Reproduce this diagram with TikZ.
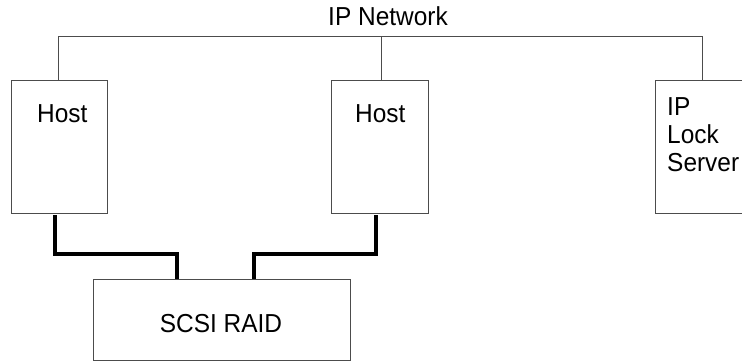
\documentclass[tikz,border=0pt]{standalone}
\usepackage{fontspec}
\setmainfont{Liberation Sans}
\newcommand{\nt}[1]{\scalebox{0.94}[1]{#1}}
\begin{document}
\begin{tikzpicture}[x=1pt,y=-1pt,
  box/.style={draw=black!70,line width=1pt,rectangle,inner sep=0pt,anchor=north west},
  lbl/.style={inner sep=0pt,anchor=base west,font=\fontsize{26}{28}\selectfont},
  thin/.style={draw=black!70,line width=1pt},
  bus/.style={draw=black,line width=4pt}]
\useasboundingbox (0,0) rectangle (742,362);
\clip (0,0) rectangle (742,362);
% boxes
\node[box,minimum width=96pt,minimum height=133pt] (h1) at (11,80) {};
\node[box,minimum width=97pt,minimum height=133pt] (h2) at (331,80) {};
\node[box,minimum width=110pt,minimum height=133pt] (ls) at (655,80) {};
\node[box,minimum width=257pt,minimum height=81pt] (raid) at (93,279) {};
% labels
\node[lbl] (t1) at (37,122) {\nt{Host}};
\node[lbl] (t2) at (355,122) {\nt{Host}};
\node[lbl] (t3) at (667,115) {\nt{IP}};
\node[lbl] (t4) at (667,143) {\nt{Lock}};
\node[lbl] (t5) at (667,171) {\nt{Server}};
\node[lbl,anchor=base] (net) at (388,25) {\nt{IP Network}};
\node[lbl,anchor=base] (rt) at (221,332) {\nt{SCSI RAID}};
% network
\coordinate (nl) at (58,36);
\coordinate (nr) at (703,36);
\draw[thin] (nl) -- (nr);
\draw[thin] (nl) -- (nl |- h1.north);
\draw[thin] (381,36) -- (381,80);
\draw[thin] (702,36) -- (702,80);
% SCSI links
\draw[bus] (54.5,215) -- (54.5,254) -| (177,279);
\draw[bus] (376,215) -- (376,254) -| (254,279);
\end{tikzpicture}
\end{document}
